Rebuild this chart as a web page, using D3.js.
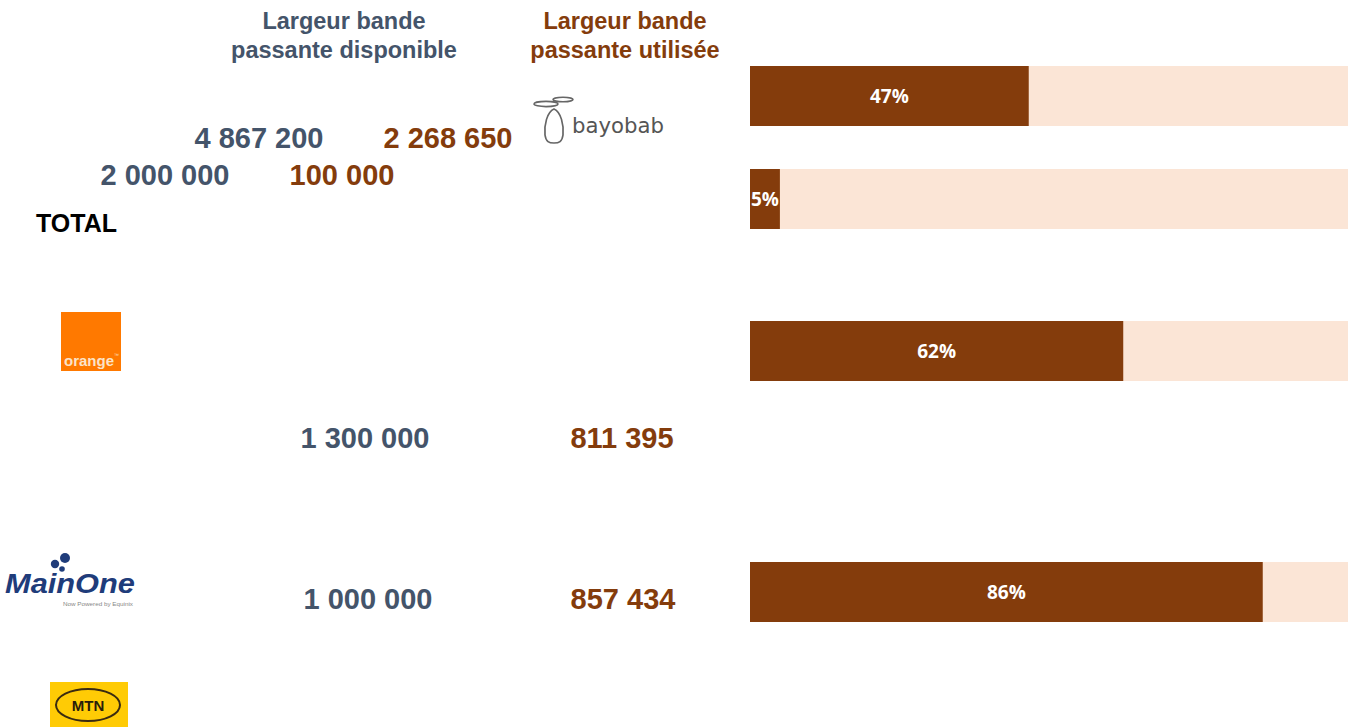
<!DOCTYPE html>
<html>
<head>
<meta charset="utf-8">
<script src="https://cdn.jsdelivr.net/npm/d3@7"></script>
<style>
  html, body { margin: 0; padding: 0; background: #fff; }
  svg { display: block; }
  text { font-family: "Liberation Sans", Arial, sans-serif; }
</style>
</head>
<body>
<div id="chart"></div>
<script>
// données
const categories = ['TOTAL', 'ligne2', 'ligne3', 'ligne4'];
const available = [4867200, 2000000, 1300000, 1000000];
const used = [2268650, 100000, 811395, 857434];
const headers = [['Largeur bande', 'passante disponible'], ['Largeur bande', 'passante utilisée']];

const width = 1348, height = 727;
const slate = '#44546A', brown = '#843C0C', light = '#FBE5D6';

const svg = d3.select('#chart').append('svg')
  .attr('width', width)
  .attr('height', height);

// échelles
const x = d3.scaleLinear().domain([0, 1]).range([750, 1348]);
const barY = d3.scaleOrdinal().domain(categories).range([66, 169, 321, 562]);
const barH = 60;
// positions des libellés numériques (mise en page de la diapo)
const labelY = d3.scaleOrdinal().domain(categories).range([148, 185, 448, 609]);
const availX = d3.scaleOrdinal().domain(categories).range([259, 165, 365, 368]);
const usedX = d3.scaleOrdinal().domain(categories).range([448, 342, 622, 623]);

const fmt = d3.formatLocale({ decimal: ',', thousands: ' ', grouping: [3], currency: ['', ''] }).format(',d');

const rows = categories.map((c, i) => ({
  cat: c,
  avail: available[i],
  used: used[i],
  share: used[i] / available[i]
}));

// en-têtes
headers.forEach((lines, j) => {
  const cx = j === 0 ? 344 : 625;
  const t = svg.append('text')
    .attr('x', cx)
    .attr('y', 29)
    .attr('text-anchor', 'middle')
    .attr('font-size', 23.5)
    .attr('font-weight', 'bold')
    .attr('fill', j === 0 ? slate : brown);
  lines.forEach((l, k) => {
    t.append('tspan').attr('x', cx).attr('dy', k === 0 ? 0 : 29).text(l);
  });
});

// barres de fond
const bars = svg.append('g');
bars.selectAll('rect.bg')
  .data(rows)
  .join('rect')
  .attr('class', 'bg')
  .attr('x', x(0))
  .attr('y', d => barY(d.cat))
  .attr('width', x(1) - x(0))
  .attr('height', barH)
  .attr('fill', light);

bars.selectAll('rect.fg')
  .data(rows)
  .join('rect')
  .attr('class', 'fg')
  .attr('x', x(0))
  .attr('y', d => barY(d.cat))
  .attr('width', d => x(d.share) - x(0))
  .attr('height', barH)
  .attr('fill', brown);

bars.selectAll('text')
  .data(rows)
  .join('text')
  .attr('x', d => (x(0) + x(d.share)) / 2)
  .attr('y', d => barY(d.cat) + barH / 2 + 7)
  .attr('text-anchor', 'middle')
  .attr('font-size', 19)
  .attr('font-weight', 'bold')
  .attr('fill', '#fff')
  .style('font-family', '"Open Sans", sans-serif')
  .text(d => Math.round(d.share * 100) + '%');

// valeurs
svg.append('g').selectAll('text')
  .data(rows)
  .join('text')
  .attr('x', d => availX(d.cat))
  .attr('y', d => labelY(d.cat))
  .attr('text-anchor', 'middle')
  .attr('font-size', 29)
  .attr('font-weight', 'bold')
  .attr('fill', slate)
  .text(d => fmt(d.avail));

svg.append('g').selectAll('text')
  .data(rows)
  .join('text')
  .attr('x', d => usedX(d.cat))
  .attr('y', d => labelY(d.cat))
  .attr('text-anchor', 'middle')
  .attr('font-size', 29)
  .attr('font-weight', 'bold')
  .attr('fill', brown)
  .text(d => fmt(d.used));

// TOTAL
svg.append('text')
  .attr('x', 36)
  .attr('y', 232)
  .attr('font-size', 25)
  .attr('font-weight', 'bold')
  .attr('fill', '#000')
  .attr('textLength', 81)
  .attr('lengthAdjust', 'spacingAndGlyphs')
  .text('TOTAL');

// logo bayobab
const bayo = svg.append('g').attr('transform', 'translate(533,95)');
bayo.append('ellipse').attr('cx', 13).attr('cy', 9).attr('rx', 12).attr('ry', 2.6)
  .attr('fill', 'none').attr('stroke', '#666').attr('stroke-width', 1.6);
bayo.append('ellipse').attr('cx', 30).attr('cy', 4.5).attr('rx', 10).attr('ry', 2.3)
  .attr('fill', 'none').attr('stroke', '#666').attr('stroke-width', 1.6);
bayo.append('path')
  .attr('d', 'M21,14 C14,17 11,30 12,40 C13,47 16,48 21,48 C26,48 29,47 30,40 C31,30 28,17 21,14 Z')
  .attr('fill', 'none').attr('stroke', '#666').attr('stroke-width', 1.7);
bayo.append('text')
  .attr('x', 39).attr('y', 38)
  .attr('font-size', 22)
  .attr('fill', '#555')
  .style('font-family', '"DejaVu Sans", sans-serif')
  .attr('textLength', 92)
  .attr('lengthAdjust', 'spacingAndGlyphs')
  .text('bayobab');

// logo orange
const ora = svg.append('g').attr('transform', 'translate(61,312)');
ora.append('rect').attr('width', 60).attr('height', 59).attr('fill', '#FF7900');
ora.append('text')
  .attr('x', 3).attr('y', 54)
  .attr('font-size', 15)
  .attr('font-weight', 'bold')
  .attr('fill', '#FBE3C8')
  .attr('textLength', 50)
  .attr('lengthAdjust', 'spacingAndGlyphs')
  .text('orange');
ora.append('text')
  .attr('x', 53).attr('y', 45)
  .attr('font-size', 5)
  .attr('fill', '#FBE3C8')
  .text('™');

// logo MainOne
const mo = svg.append('g').attr('transform', 'translate(5,553)');
mo.append('circle').attr('cx', 60).attr('cy', 5).attr('r', 5).attr('fill', '#1F3C7A');
mo.append('circle').attr('cx', 50).attr('cy', 11).attr('r', 4.2).attr('fill', '#1F3C7A');
mo.append('circle').attr('cx', 57).attr('cy', 16).attr('r', 2.8).attr('fill', '#1F3C7A');
mo.append('text')
  .attr('x', 0).attr('y', 40)
  .attr('font-size', 27)
  .attr('font-weight', 'bold')
  .attr('font-style', 'italic')
  .attr('fill', '#1F3C7A')
  .attr('textLength', 130)
  .attr('lengthAdjust', 'spacingAndGlyphs')
  .text('MainOne');
mo.append('text')
  .attr('x', 58).attr('y', 53)
  .attr('font-size', 5)
  .attr('fill', '#888')
  .attr('textLength', 70)
  .attr('lengthAdjust', 'spacingAndGlyphs')
  .text('Now Powered by Equinix');

// logo MTN
const mtn = svg.append('g').attr('transform', 'translate(50,682)');
mtn.append('rect').attr('width', 78).attr('height', 45).attr('fill', '#FFCB05');
mtn.append('ellipse').attr('cx', 38).attr('cy', 23).attr('rx', 32).attr('ry', 16)
  .attr('fill', 'none').attr('stroke', '#3A2A10').attr('stroke-width', 2);
mtn.append('text')
  .attr('x', 38).attr('y', 29)
  .attr('text-anchor', 'middle')
  .attr('font-size', 15)
  .attr('font-weight', 'bold')
  .attr('fill', '#2A1E0A')
  .text('MTN');
</script>
</body>
</html>
